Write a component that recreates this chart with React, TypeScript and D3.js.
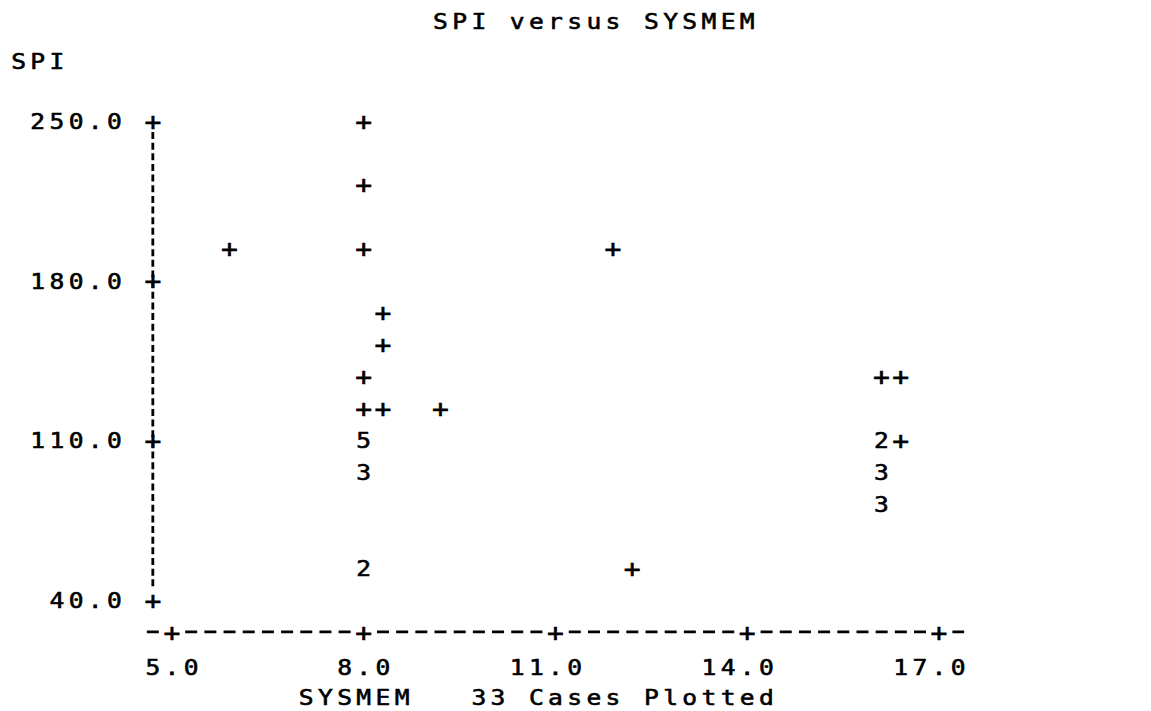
import React from "react";
import * as d3 from "d3";

const sysmem = [8.0, 8.0, 5.9, 8.0, 11.9, 8.3, 8.3, 8.0, 16.1, 16.4, 8.0, 8.3, 9.2, 8.0, 16.1, 16.4, 8.0, 16.1, 16.1, 8.0, 12.2];
const spi = [250, 222, 194, 194, 194, 166, 152, 138, 138, 138, 124, 124, 124, 110, 110, 110, 96, 96, 82, 54, 54];
const counts = [1, 1, 1, 1, 1, 1, 1, 1, 1, 1, 1, 1, 1, 5, 2, 1, 3, 3, 3, 2, 1];

const xTicks = [5, 8, 11, 14, 17];
const yTicks = [250, 180, 110, 40];
const title = "SPI versus SYSMEM";
const yLabel = "SPI";
const xLabel = "SYSMEM   33 Cases Plotted";

const W = 1151;
const H = 711;
const FONT = "'DejaVu Sans Mono', 'Liberation Mono', monospace";
const FS = 22;
const PLUS_FS = 25;
const SX = 1.12;

export default function App() {
  const x = d3.scaleLinear().domain([5, 17]).range([172, 939]);
  const y = d3.scaleLinear().domain([40, 250]).range([600, 121]);
  const cw = (x(17) - x(5)) / 40; // character cell width
  const rh = (y(40) - y(250)) / 15; // character row height
  const col = (c: number) => x(5) + c * cw;
  const row = (r: number) => y(250) + r * rh;

  const textProps = {
    dy: "0.36em",
    textAnchor: "middle" as const,
    fontFamily: FONT,
    fontSize: FS,
    fill: "#000",
    stroke: "#000",
    strokeWidth: 0.6,
  };

  // monospace text: each character centered in its own cell
  const Mono = ({ s, c0, yc, fs }: { s: string; c0: number; yc: number; fs?: number }) => (
    <g transform={`scale(${SX},1)`}>
      <text
        {...textProps}
        fontSize={fs ?? FS}
        dy={s === "+" ? "0.345em" : "0.36em"}
        x={s.split("").map((_, i) => (col(c0 + i) / SX).toFixed(2)).join(" ")}
        y={yc}
        style={{ whiteSpace: "pre" }}
      >
        {s}
      </text>
    </g>
  );

  const axisCol = -1;
  const axisX = col(axisCol);
  const xAxisY = row(16);
  const fmt = d3.format(".1f");

  return (
    <svg width={W} height={H} style={{ position: "absolute", left: 0, top: 0, background: "#fff" }}>
      <rect width={W} height={H} fill="#fff" />
      {/* title */}
      <Mono s={title} c0={14} yc={row(-3.12)} />
      <Mono s={yLabel} c0={-8} yc={row(-1.88)} />

      {/* vertical axis dashed */}
      <line x1={axisX} x2={axisX} y1={y(250) + 11} y2={y(40) - 11} stroke="#000" strokeWidth={2.8} strokeDasharray="7 3.65" />
      {yTicks.map((t) => {
        const s = fmt(t);
        return (
          <g key={"yt" + t}>
            <Mono s={s} c0={-3 - (s.length - 1)} yc={y(t)} />
            <Mono s="+" c0={axisCol} yc={y(t)} fs={PLUS_FS} />
          </g>
        );
      })}

      {/* horizontal axis dashed */}
      <line
        x1={col(-1) - 6}
        x2={col(41) + 6}
        y1={xAxisY}
        y2={xAxisY}
        stroke="#000"
        strokeWidth={2.8}
        strokeDasharray={`12 ${(cw - 12).toFixed(2)}`}
      />
      {xTicks.map((t) => {
        const s = fmt(t);
        const tc = (x(t) - x(5)) / cw;
        return (
          <g key={"xt" + t}>
            <rect x={x(t) - 9} y={xAxisY - 4} width={18} height={8} fill="#fff" />
            <Mono s="+" c0={tc} yc={xAxisY} fs={PLUS_FS} />
            <Mono s={s} c0={s.length === 3 ? tc - 1 : tc - 2} yc={row(17.1)} />
          </g>
        );
      })}
      <Mono s={xLabel} c0={7} yc={row(18.05)} />

      {/* points */}
      <g transform={`scale(${SX},1)`}>
        {sysmem.map((v, i) => {
          const isPlus = counts[i] === 1;
          return (
            <text
              key={"p" + i}
              {...textProps}
              fontSize={isPlus ? PLUS_FS : FS}
              dy={isPlus ? "0.345em" : "0.36em"}
              x={x(v) / SX}
              y={y(spi[i])}
            >
              {isPlus ? "+" : String(counts[i])}
            </text>
          );
        })}
      </g>
    </svg>
  );
}
